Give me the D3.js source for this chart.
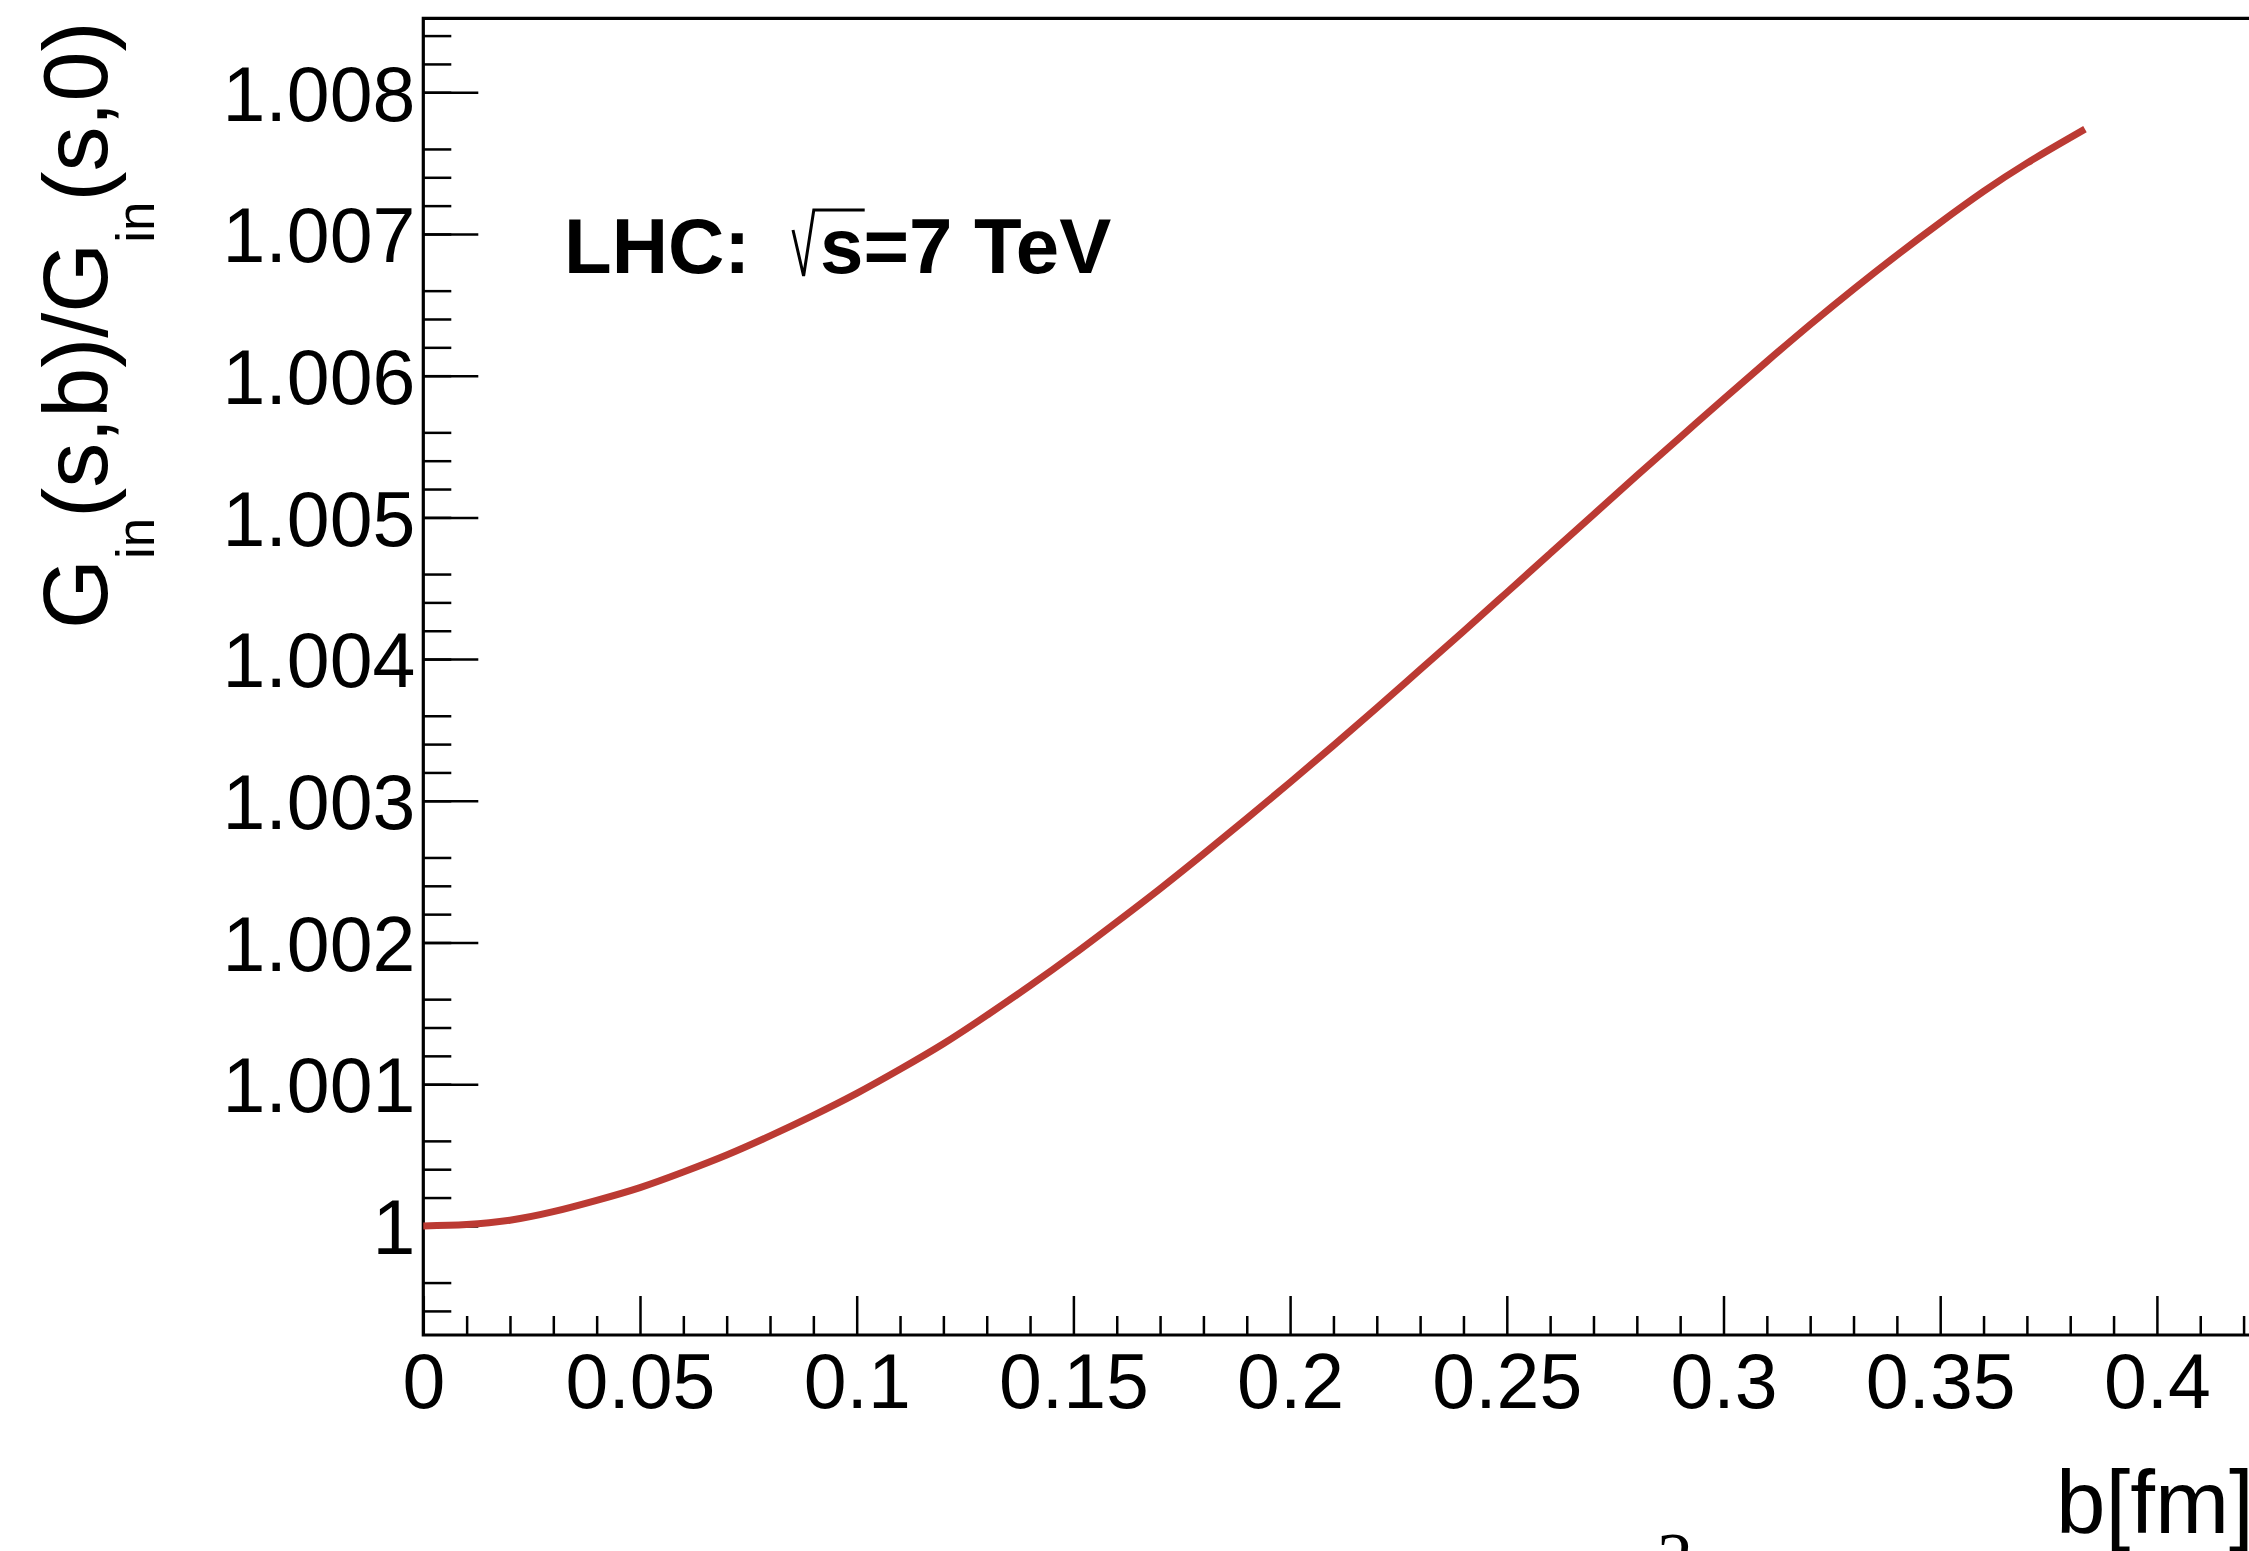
<!DOCTYPE html>
<html>
<head>
<meta charset="utf-8">
<script src="https://cdn.jsdelivr.net/npm/d3@7"></script>
<style>
  body { margin: 0; background: #fff; }
  svg { display: block; }
  text { font-family: "Liberation Sans", Arial, Helvetica, sans-serif; fill: #000; }
</style>
</head>
<body>
<svg id="chart" width="2249" height="1551"></svg>
<script>
// impact parameter b [fm]
var bValues = [0, 0.01, 0.02, 0.03, 0.04, 0.05, 0.06, 0.07, 0.08, 0.09,
               0.10, 0.11, 0.12, 0.13, 0.14, 0.15, 0.16, 0.17, 0.18, 0.19,
               0.20, 0.21, 0.22, 0.23, 0.24, 0.25, 0.26, 0.27, 0.28, 0.29,
               0.30, 0.31, 0.32, 0.33, 0.34, 0.35, 0.36, 0.37, 0.38, 0.3834];
// G_in(s,b)/G_in(s,0)
var ratioValues = [1.000000, 1.000010, 1.000040, 1.000100, 1.000180, 1.000270, 1.000380, 1.000500, 1.000635, 1.000780,
                   1.000935, 1.001105, 1.001285, 1.001485, 1.001695, 1.001915, 1.002145, 1.002380, 1.002625, 1.002875,
                   1.003130, 1.003390, 1.003655, 1.003925, 1.004195, 1.004470, 1.004745, 1.005020, 1.005295, 1.005565,
                   1.005835, 1.006100, 1.006360, 1.006610, 1.006850, 1.007080, 1.007300, 1.007500, 1.007680, 1.007740];

var xTickValues = [0, 0.05, 0.1, 0.15, 0.2, 0.25, 0.3, 0.35, 0.4, 0.45];
var xTickLabels = ["0", "0.05", "0.1", "0.15", "0.2", "0.25", "0.3", "0.35", "0.4", "0.45"];
var yTickValues = [1, 1.001, 1.002, 1.003, 1.004, 1.005, 1.006, 1.007, 1.008];
var yTickLabels = ["1", "1.001", "1.002", "1.003", "1.004", "1.005", "1.006", "1.007", "1.008"];

var lineColor = "#bb3a33";

var padLeft = 423.3, padRight = 2373.6, padTop = 18.3, padBottom = 1335;

var svg = d3.select("#chart");

var x = d3.scaleLinear().domain([0, 0.45]).range([padLeft, padRight]);
var y = d3.scaleLinear().domain([0.99923, 1.008522]).range([padBottom, padTop]);

// minor tick positions
var xMinor = d3.range(0, 46).map(function(i) { return i / 100; })
    .filter(function(v, i) { return i % 5 != 0; });
var yMinor = d3.range(-3, 43).map(function(i) { return 1 + i * 0.0002; })
    .filter(function(v, i) { return (i + 3) % 5 != 0 && v <= 1.0085; });

// x axis
var xMajorAxis = d3.axisBottom(x)
    .tickValues(xTickValues)
    .tickSize(-39)
    .tickPadding(18)
    .tickFormat(function(d, i) { return xTickLabels[i]; });
var gx = svg.append("g").attr("transform", "translate(0," + padBottom + ")").call(xMajorAxis);
svg.append("g").attr("transform", "translate(0," + padBottom + ")")
    .call(d3.axisBottom(x).tickValues(xMinor).tickSize(-19).tickFormat(""));

// y axis
var yMajorAxis = d3.axisLeft(y)
    .tickValues(yTickValues)
    .tickSize(-55)
    .tickPadding(8)
    .tickFormat(function(d, i) { return yTickLabels[i]; });
var gy = svg.append("g").attr("transform", "translate(" + padLeft + ",0)").call(yMajorAxis);
svg.append("g").attr("transform", "translate(" + padLeft + ",0)")
    .call(d3.axisLeft(y).tickValues(yMinor).tickSize(-28).tickFormat(""));

svg.selectAll(".domain").remove();
svg.selectAll(".tick line").attr("stroke", "#000").attr("stroke-width", 2.5);
svg.selectAll(".tick text")
    .style("font-size", "77px")
    .style("font-family", "'Liberation Sans', Arial, sans-serif")
    .attr("fill", "#000");
gy.selectAll(".tick text").attr("dy", "0.36em");

// frame
svg.append("path")
    .attr("d", "M" + padLeft + "," + padBottom + "H" + padRight + "V" + padTop + "H" + padLeft + "Z")
    .attr("fill", "none")
    .attr("stroke", "#000")
    .attr("stroke-width", 3.2);

// curve
var points = bValues.map(function(b, i) { return [b, ratioValues[i]]; });
var line = d3.line()
    .x(function(d) { return x(d[0]); })
    .y(function(d) { return y(d[1]); })
    .curve(d3.curveNatural);
svg.append("path")
    .datum(points)
    .attr("d", line)
    .attr("fill", "none")
    .attr("stroke", lineColor)
    .attr("stroke-width", 7);

// axis titles
svg.append("text")
    .attr("x", 2056)
    .attr("y", 1533)
    .style("font-size", "89px")
    .text("b[fm]");

var yTitle = svg.append("text")
    .attr("transform", "translate(107,21.5) rotate(-90)")
    .attr("text-anchor", "end")
    .style("font-size", "90px");
yTitle.append("tspan").text("G");
yTitle.append("tspan").attr("dy", 47).style("font-size", "53px").text("in");
yTitle.append("tspan").attr("dy", -47).text("(s,b)/G");
yTitle.append("tspan").attr("dy", 47).style("font-size", "53px").text("in");
yTitle.append("tspan").attr("dy", -47).text("(s,0)");

// label
svg.append("text")
    .attr("x", 564)
    .attr("y", 273)
    .style("font-size", "78px")
    .style("font-weight", "bold")
    .text("LHC:");
svg.append("path")
    .attr("d", "M793,230 L803.6,276 L813.8,210 H864.7")
    .attr("fill", "none")
    .attr("stroke", "#000")
    .attr("stroke-width", 3);
svg.append("text")
    .attr("x", 820)
    .attr("y", 273)
    .style("font-size", "78px")
    .style("font-weight", "bold")
    .text("s=7 TeV");

// stray glyph cut by the bottom edge
svg.append("text")
    .attr("x", 1657)
    .attr("y", 1582)
    .style("font-family", "'Liberation Serif', 'Times New Roman', serif")
    .style("font-size", "72px")
    .text("2");
</script>
</body>
</html>
